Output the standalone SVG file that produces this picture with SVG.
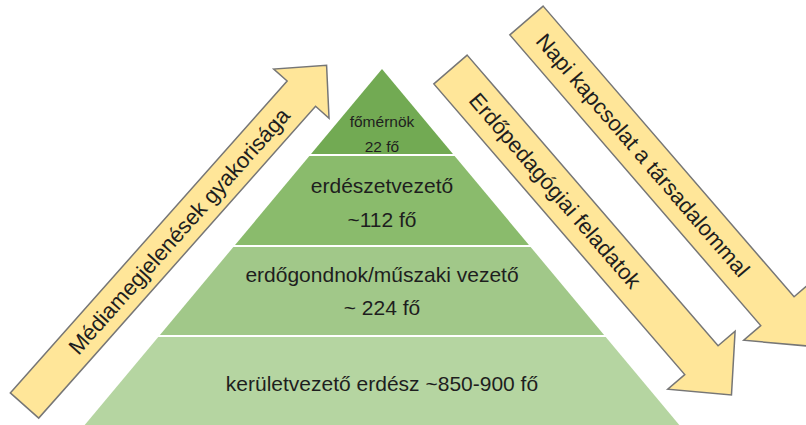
<svg xmlns="http://www.w3.org/2000/svg" width="806" height="425" viewBox="0 0 806 425">
  <style>
    .t { font-family: "Liberation Sans", Arial, sans-serif; fill: #1e1e1e; text-anchor: middle; dominant-baseline: central; }
    .big { font-size: 21px; }
    .small { font-size: 15.5px; }
    .arr { fill: #FFE699; stroke: #767676; stroke-width: 1.5; stroke-linejoin: miter; }
    .at { font-family: "Liberation Sans", Arial, sans-serif; font-size: 22px; fill: #1e1e1e; text-anchor: middle; dominant-baseline: central; }
    .sep { stroke: #ffffff; stroke-width: 2; }
  </style>
  <rect width="806" height="425" fill="#ffffff"/>
  <g id="pyramid">
    <g id="level1">
      <polygon points="382,69 453.8,155 310.2,155" fill="#72aa53"/>
      <text class="t small" x="382" y="121">főmérnök</text>
      <text class="t small" x="382" y="146">22 fő</text>
    </g>
    <g id="level2">
      <polygon points="310.2,155 453.8,155 529.8,246 234.2,246" fill="#8abb6c"/>
      <text class="t big" x="382" y="185">erdészetvezető</text>
      <text class="t big" x="382" y="219">~112 fő</text>
    </g>
    <g id="level3">
      <polygon points="234.2,246 529.8,246 604.9,336 159.1,336" fill="#a1c889"/>
      <text class="t big" x="382" y="274">erdőgondnok/műszaki vezető</text>
      <text class="t big" x="382" y="307">~ 224 fő</text>
    </g>
    <g id="level4">
      <polygon points="159.1,336 604.9,336 679.3,425 84.7,425" fill="#b5d5a1"/>
      <text class="t big" x="382" y="383">kerületvezető erdész ~850-900 fő</text>
    </g>
    <line class="sep" x1="305" y1="155" x2="459" y2="155"/>
    <line class="sep" x1="229" y1="246" x2="535" y2="246"/>
    <line class="sep" x1="154" y1="336" x2="610" y2="336"/>
  </g>
  <g id="connectors">
    <g id="arrow-media" transform="translate(24.5,405.5) rotate(-48.4)">
      <polygon class="arr" points="0,-19 417,-19 417,-37 455,0 417,37 417,19 0,19"/>
      <text class="at" x="233" y="0" font-size="22.5">Médiamegjelenések gyakorisága</text>
    </g>
    <g id="arrow-erdopedagogia" transform="translate(450.5,69.5) rotate(49.2)">
      <polygon class="arr" points="0,-22 384,-22 384,-44.5 430,0 384,44.5 384,22 0,22"/>
      <text class="at" x="160" y="0">Erdőpedagógiai feladatok</text>
    </g>
    <g id="arrow-napi" transform="translate(526.5,20.5) rotate(49.2)">
      <polygon class="arr" points="0,-22 384,-22 384,-44.5 430,0 384,44.5 384,22 0,22"/>
      <text class="at" x="178" y="0">Napi kapcsolat a társadalommal</text>
    </g>
  </g>
</svg>
